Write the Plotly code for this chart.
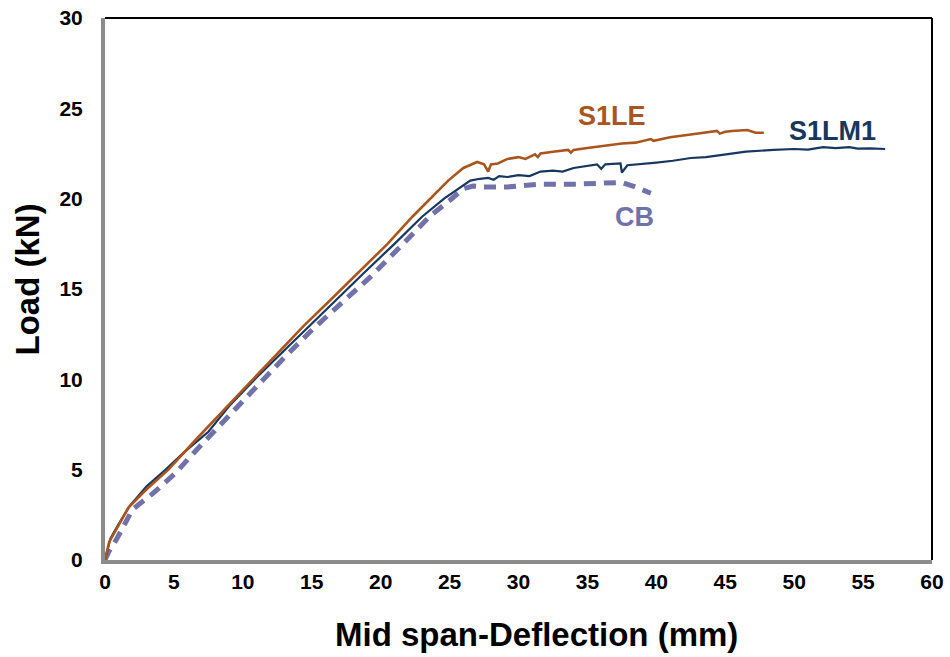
import plotly.graph_objects as go

# ---- data ----
s1le_x = [0, 0.3, 0.8, 1.7, 3.0, 4.6, 6.6, 9.1, 11.5, 14.4, 16.5, 18.4, 20.5, 22.3, 24.0, 24.9,
          26.0, 27.0, 27.5, 27.8, 28.0, 28.5, 29.2, 30.0, 30.5, 31.2, 31.4, 31.6, 32.5, 33.6, 33.8,
          34.0, 35.0, 36.4, 37.5, 38.5, 39.6, 39.8, 41.0, 42.5, 43.7, 44.4, 44.6, 45.0, 45.5, 46.6,
          47.2, 47.8]
s1le_y = [0, 1.0, 1.67, 2.9, 3.9, 5.0, 6.67, 8.7, 10.6, 12.95, 14.5, 15.9, 17.5, 19.0, 20.3, 21.0,
          21.7, 22.03, 21.9, 21.5, 21.9, 21.95, 22.2, 22.3, 22.2, 22.45, 22.3, 22.5, 22.6, 22.7, 22.55,
          22.7, 22.8, 22.95, 23.05, 23.1, 23.3, 23.2, 23.4, 23.55, 23.7, 23.75, 23.6, 23.7, 23.75,
          23.8, 23.65, 23.65]

s1lm1_x = [0, 0.4, 1.0, 1.8, 3.0, 4.4, 5.65, 7.5, 9.1, 11.0, 13.0, 14.8, 16.8, 18.8, 21.0, 23.0,
           24.6, 25.7, 26.5, 27.2, 27.8, 28.2, 28.6, 29.2, 30.0, 30.8, 31.6, 32.5, 33.2, 34.0, 35.0,
           35.7, 36.0, 36.3, 37.4, 37.5, 37.9, 39.0, 40.0, 41.2, 42.5, 43.6, 44.9, 46.5, 48.5, 50.0,
           51.0, 52.1, 53.0, 54.0, 54.6, 55.5, 56.6]
s1lm1_y = [0, 1.2, 2.0, 3.0, 4.06, 5.0, 5.9, 7.1, 8.6, 10.1, 11.6, 12.95, 14.4, 15.9, 17.5, 19.0,
           20.0, 20.6, 21.0, 21.1, 21.15, 21.05, 21.25, 21.2, 21.3, 21.25, 21.5, 21.55, 21.5, 21.7, 21.8,
           21.9, 21.65, 21.9, 21.95, 21.45, 21.85, 21.95, 22.0, 22.1, 22.25, 22.3, 22.45, 22.6, 22.7,
           22.75, 22.72, 22.85, 22.8, 22.85, 22.77, 22.78, 22.75]

cb_x = [0, 0.3, 0.8, 2.0, 3.5, 5.1, 6.4, 8.0, 9.1, 11.0, 13.0, 15.1, 17.2, 19.3, 21.5, 23.6,
        25.0, 26.0, 26.7, 27.5, 29.2, 31.6, 34.0, 36.4, 37.5, 38.3, 39.0, 39.6]
cb_y = [0, 0.5, 1.1, 2.8, 3.7, 4.8, 5.9, 7.2, 8.15, 9.6, 11.2, 12.8, 14.25, 15.7, 17.4, 19.05,
        19.9, 20.55, 20.7, 20.65, 20.65, 20.8, 20.8, 20.9, 20.9, 20.7, 20.5, 20.3]

x_ticks = [0, 5, 10, 15, 20, 25, 30, 35, 40, 45, 50, 55, 60]
y_ticks = [0, 5, 10, 15, 20, 25, 30]

labels = ["S1LE", "S1LM1", "CB"]
label_x = [36.8, 52.8, 38.4]
label_y = [24.57, 23.74, 18.98]

x_title = "Mid span-Deflection (mm)"
y_title = "Load (kN)"

C_LE = "#A9561E"
C_LM = "#17375E"
C_CB = "#7272AA"
colors = [C_LE, C_LM, C_CB]

FONT = "Liberation Sans, Arial, sans-serif"

fig = go.Figure()
fig.add_trace(go.Scatter(x=cb_x, y=cb_y, mode="lines", name="CB",
                         line=dict(color=C_CB, width=5, dash="12px,8px")))
fig.add_trace(go.Scatter(x=s1lm1_x, y=s1lm1_y, mode="lines", name="S1LM1",
                         line=dict(color=C_LM, width=2.2)))
fig.add_trace(go.Scatter(x=s1le_x, y=s1le_y, mode="lines", name="S1LE",
                         line=dict(color=C_LE, width=2.6)))

for t, lx, ly, c in zip(labels, label_x, label_y, colors):
    fig.add_annotation(x=lx, y=ly, text="<b>%s</b>" % t, showarrow=False,
                       font=dict(family=FONT, size=27, color=c))

# axis titles
fig.add_annotation(xref="paper", yref="paper", x=0.522, y=-0.137, yanchor="middle",
                   text="<b>%s</b>" % x_title, showarrow=False,
                   font=dict(family=FONT, size=33, color="black"))
fig.add_annotation(xref="paper", yref="paper", x=-0.094, y=0.518, xanchor="center",
                   text="<b>%s</b>" % y_title, showarrow=False, textangle=-90,
                   font=dict(family=FONT, size=33, color="black"))

# thin black frame on top and right
fig.add_shape(type="line", xref="paper", yref="paper", x0=0, x1=1, y0=1, y1=1,
              line=dict(color="black", width=2))
fig.add_shape(type="line", xref="paper", yref="paper", x0=1, x1=1, y0=0, y1=1,
              line=dict(color="black", width=2))

fig.update_layout(
    width=950, height=657,
    margin=dict(l=105, r=18, t=18, b=97, autoexpand=False),
    paper_bgcolor="white", plot_bgcolor="white",
    showlegend=False,
    font=dict(family=FONT, color="black"),
)
fig.update_xaxes(range=[0, 60], tickvals=x_ticks, ticktext=["<b>%d</b>" % v for v in x_ticks],
                 showgrid=False, zeroline=False, showline=True, linecolor="#8C8C8C", linewidth=4,
                 ticks="", automargin=False,
                 tickfont=dict(size=21, family=FONT, color="black"))
fig.update_yaxes(range=[0, 30], tickvals=y_ticks, ticktext=["<b>%d</b>" % v for v in y_ticks],
                 showgrid=False, zeroline=False, showline=True, linecolor="#8C8C8C", linewidth=4,
                 ticks="outside", ticklen=14, tickcolor="rgba(0,0,0,0)", automargin=False,
                 tickfont=dict(size=21, family=FONT, color="black"))

fig.write_html("out.html", config={"displayModeBar": False},
               post_script="document.body.style.margin='0';document.body.style.overflow='hidden';")
